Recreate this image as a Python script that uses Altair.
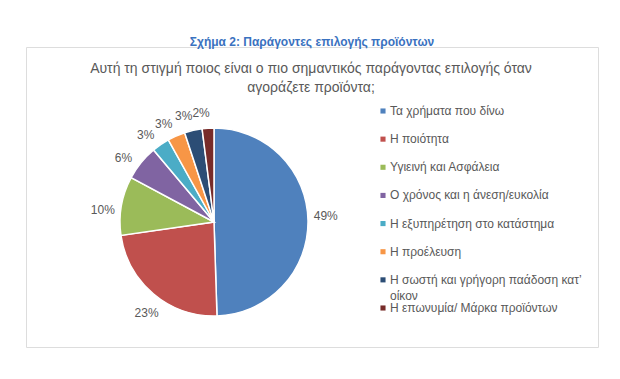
import altair as alt
import pandas as pd
import math

categories = [
    "Τα χρήματα που δίνω",
    "Η ποιότητα",
    "Υγιεινή και Ασφάλεια",
    "Ο χρόνος και η άνεση/ευκολία",
    "Η εξυπηρέτηση στο κατάστημα",
    "Η προέλευση",
    "Η σωστή και γρήγορη παάδοση κατ’\nοίκον",
    "Η επωνυμία/ Μάρκα προϊόντων",
]
values = [49, 23, 10, 6, 3, 3, 3, 2]
labels = ["49%", "23%", "10%", "6%", "3%", "3%", "3%", "2%"]
colors = ["#4F81BD", "#C0504D", "#9BBB59", "#8064A2", "#4BACC6", "#F79646", "#2C4D75", "#772C2A"]
heading = "Σχήμα 2: Παράγοντες επιλογής προϊόντων"
question = ["Αυτή τη στιγμή ποιος είναι ο πιο σημαντικός παράγοντας επιλογής όταν",
            "αγοράζετε προϊόντα;"]

df = pd.DataFrame({
    "idx": list(range(len(categories))),
    "cat": categories,
    "value": values,
    "label": labels,
})

color_scale = alt.Scale(domain=categories, range=colors)
FONT = "Liberation Sans"
GRAY = "#595959"
CX, CY, R = 188, 175, 94

base = alt.Chart(df)

pie = base.mark_arc(outerRadius=R, stroke="white", strokeWidth=1.5).encode(
    theta=alt.Theta("value:Q", stack=True),
    order=alt.Order("idx:Q"),
    color=alt.Color("cat:N", scale=color_scale, legend=None),
    x=alt.value(CX), y=alt.value(CY),
)

# labels placed slightly counter-clockwise, as Excel's best-fit does
rot = math.radians(-3)
pie_labels = base.mark_text(radius=112, font=FONT, fontSize=12, color=GRAY).encode(
    theta=alt.Theta("value:Q", stack=True,
                    scale=alt.Scale(range=[rot, rot + 2 * math.pi])),
    order=alt.Order("idx:Q"),
    text="label:N",
    x=alt.value(CX), y=alt.value(CY + 2),
)

pie_layer = alt.layer(pie, pie_labels).resolve_scale(theta="independent")

yscale = alt.Scale(domain=[0, 7], range=[64, 261])

leg_sym = base.mark_square(size=26, opacity=1).encode(
    x=alt.value(357),
    y=alt.Y("idx:Q", scale=yscale, axis=None),
    color=alt.Color("cat:N", scale=color_scale, legend=None),
)

leg_txt = base.mark_text(align="left", baseline="middle", font=FONT, fontSize=12,
                         color=GRAY, lineBreak="\n", lineHeight=16).encode(
    x=alt.value(364),
    y=alt.Y("idx:Q", scale=yscale, axis=None),
    text="cat:N",
)

q_df = pd.DataFrame({"t": ["\n".join(question)]})
q_txt = alt.Chart(q_df).mark_text(align="center", baseline="top", font=FONT, fontSize=14,
                                  color=GRAY, lineBreak="\n", lineHeight=19).encode(
    x=alt.value(285), y=alt.value(15), text="t:N"
)

chart = alt.layer(pie_layer, leg_sym, leg_txt, q_txt).properties(
    width=572, height=300,
    padding={"left": 18, "top": 39, "right": 14, "bottom": 24},
    autosize=alt.AutoSizeParams(type="none"),
    title=alt.TitleParams(heading, font=FONT, fontSize=12, fontWeight="bold",
                          color="#3A72C0", anchor="middle", offset=-2),
).configure_view(stroke="#D9D9D9", strokeWidth=1).configure(background="white")

chart.save("out.html", embed_options={"renderer": "svg", "actions": False})
